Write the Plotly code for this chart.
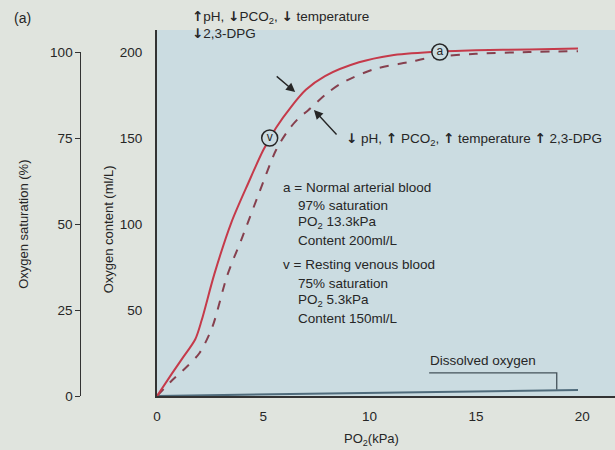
import plotly.graph_objects as go

# Haemoglobin dissociation curves: oxygen content (ml/L) against PO2 (kPa)
po2_left = [0, 0.7, 1.2, 1.8, 2.1, 2.7, 3.5, 4.3, 5.0, 5.6, 6.3, 7.0, 7.9, 9.5, 11.0, 12.9, 15.0, 17.5, 19.8]
content_left = [0, 13, 22, 33, 44, 71, 101, 124, 143, 156, 168, 178, 186, 194, 198, 200, 201, 201.5, 202]

po2_normal = [0, 0.7, 1.4, 2.0, 2.6, 3.3, 4.0, 4.8, 5.6, 6.2, 6.7, 7.1, 8.0, 8.7, 10.2, 11.8, 13.0, 15.0, 17.5, 19.8]
content_normal = [0, 9, 17, 25, 40, 70, 92, 118, 143, 155, 162, 166, 176, 182, 190, 194, 197, 199, 200, 200.5]

po2_dissolved = [0, 19.8]
content_dissolved = [0, 3.5]

# Reference points: arterial (a) and resting venous (v) blood
point_labels = ["a", "v"]
point_po2 = [13.3, 5.3]
point_content = [200, 150]

x_ticks = [0, 5, 10, 15, 20]
content_ticks = [50, 100, 150, 200]
saturation_ticks = [0, 25, 50, 75, 100]

UP = '<span style="font-family:DejaVu Sans;font-weight:bold">↑</span>'
DOWN = '<span style="font-family:DejaVu Sans;font-weight:bold">↓</span>'

left_shift_text = [f"{UP}pH, {DOWN}PCO<sub>2</sub>, {DOWN} temperature", f"{DOWN}2,3-DPG"]
right_shift_text = f"{DOWN} pH, {UP} PCO<sub>2</sub>, {UP} temperature {UP} 2,3-DPG"
key_lines = [
    ("a = Normal arterial blood", False),
    ("97% saturation", True),
    ("PO<sub>2</sub> 13.3kPa", True),
    ("Content 200ml/L", True),
    ("v = Resting venous blood", False),
    ("75% saturation", True),
    ("PO<sub>2</sub> 5.3kPa", True),
    ("Content 150ml/L", True),
]

W, H = 615, 450
ML, MT, MB = 154, 30, 54
X_MAX = 21.54
Y_MAX = 212.8
PLOT_BG = "#cbdce1"
PAPER_BG = "#e0e4de"
INK = "#262626"
FONT = "Liberation Sans"
TEXT_SIZE = 13.5

plot_h = H - MT - MB

def paper_x(px):
    return px / W

def paper_y(py):
    return (H - MB - py) / plot_h

fig = go.Figure()

fig.add_trace(go.Scatter(x=po2_dissolved, y=content_dissolved, mode="lines",
                         line=dict(color="#4f6b7b", width=2), hoverinfo="skip"))
fig.add_trace(go.Scatter(x=po2_normal, y=content_normal, mode="lines",
                         line=dict(color="#86404e", width=2, dash="dash", shape="spline",
                                   smoothing=0.8),
                         hoverinfo="skip"))
fig.add_trace(go.Scatter(x=po2_left, y=content_left, mode="lines",
                         line=dict(color="#c53a4a", width=2, shape="spline", smoothing=0.8),
                         hoverinfo="skip"))
fig.add_trace(go.Scatter(x=point_po2, y=point_content, mode="markers+text",
                         text=point_labels, textposition="middle center",
                         textfont=dict(family=FONT, size=12, color=INK),
                         marker=dict(size=16, color=PLOT_BG, line=dict(color=INK, width=1.5)),
                         hoverinfo="skip", cliponaxis=False))
# Empty trace that brings the saturation scale onto the page
fig.add_trace(go.Scatter(x=[None], y=[None], yaxis="y2", hoverinfo="skip"))

annotations = []

def note(x, y, text, size=TEXT_SIZE):
    annotations.append(dict(x=x, y=y, xref="x", yref="y", text=text, showarrow=False,
                            xanchor="left", yanchor="middle",
                            font=dict(family=FONT, size=size, color=INK)))

def paper_note(px, py, text, size=TEXT_SIZE, angle=0, xanchor="left"):
    annotations.append(dict(x=paper_x(px), y=paper_y(py), xref="paper", yref="paper",
                            text=text, showarrow=False, textangle=angle,
                            xanchor=xanchor, yanchor="middle",
                            font=dict(family=FONT, size=size, color=INK)))

paper_note(187, 17, left_shift_text[0])
paper_note(187, 33, left_shift_text[1])
note(8.8, 149.5, right_shift_text)

key_y = [121.5, 111, 101, 90.7, 76.2, 65.7, 55.8, 45.3]
for (line, indent), yy in zip(key_lines, key_y):
    note(6.55 if indent else 5.85, yy, line)

note(12.75, 20.5, "Dissolved oxygen")

# Arrows pointing at each curve
annotations.append(dict(x=6.5, y=176.7, xref="x", yref="y", ax=-20, ay=-17, text="",
                        showarrow=True, arrowhead=2, arrowsize=1.3, arrowwidth=1.4,
                        arrowcolor=INK))
annotations.append(dict(x=7.38, y=166.3, xref="x", yref="y", ax=24, ay=26, text="",
                        showarrow=True, arrowhead=2, arrowsize=1.3, arrowwidth=1.4,
                        arrowcolor=INK))

# Axis titles and panel label
paper_note(20, 224, "Oxygen saturation (%)", size=13, angle=-90, xanchor="center")
paper_note(105, 229, "Oxygen content (ml/L)", size=13, angle=-90, xanchor="center")
paper_note(370, 440, "PO<sub>2</sub>(kPa)", size=13, xanchor="center")
paper_note(8, 18, "(a)", size=14)

shapes = [
    # tinted panel behind the curves
    dict(type="rect", xref="paper", yref="paper", x0=ML / W, x1=1, y0=0, y1=1,
         layer="below", line=dict(width=0), fillcolor=PLOT_BG),
    # leader from the dissolved-oxygen label down to its line
    dict(type="path", xref="x", yref="y",
         path="M 12.8 13.4 L 18.8 13.4 L 18.8 3.8",
         line=dict(color="#44525a", width=1.3)),
]

fig.update_layout(
    width=W, height=H,
    margin=dict(l=0, r=0, t=MT, b=MB),
    paper_bgcolor=PAPER_BG, plot_bgcolor="rgba(0,0,0,0)",
    showlegend=False,
    font=dict(family=FONT, size=12, color=INK),
    annotations=annotations, shapes=shapes,
    xaxis=dict(domain=[ML / W, 1], range=[0, X_MAX], tickvals=x_ticks,
               showgrid=False, zeroline=False, showline=True, linecolor="#333",
               linewidth=2, ticks="outside", ticklen=7, tickcolor="rgba(0,0,0,0)",
               tickfont=dict(family=FONT, size=13.5, color=INK)),
    yaxis=dict(range=[0, Y_MAX], tickvals=content_ticks, showgrid=False,
               zeroline=False, showline=True, linecolor="#333", linewidth=2,
               ticks="outside", ticklen=10, tickcolor="rgba(0,0,0,0)",
               tickfont=dict(family=FONT, size=13.5, color=INK)),
    yaxis2=dict(domain=[0, 344 / plot_h], range=[0, 100], tickvals=saturation_ticks,
                anchor="free", position=77 / W, side="left",
                showgrid=False, zeroline=False, showline=True, linecolor="#333",
                linewidth=1.3, ticks="outside", ticklen=5, tickcolor="#333",
                tickfont=dict(family=FONT, size=13.5, color=INK)),
)

fig.write_html("out.html")
